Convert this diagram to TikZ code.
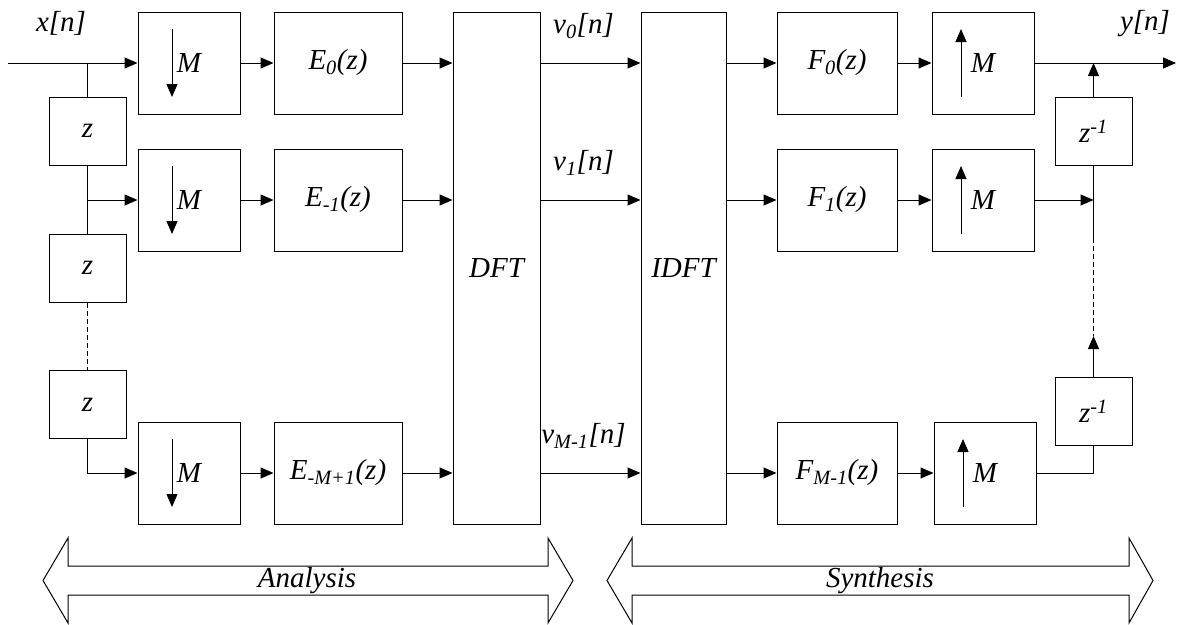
\documentclass[tikz,border=0pt]{standalone}
\usepackage{fontspec}
\setmainfont{Liberation Serif}
\usetikzlibrary{arrows.meta}

\tikzset{
	txt/.style={font=\fontsize{29}{34}\selectfont\itshape, inner sep=0pt},
	blk/.style={txt, draw},
	dnbox/.style={blk, minimum width=102pt, minimum height=102pt},
	ebox/.style={blk, minimum width=128pt, minimum height=102pt},
	fbox/.style={blk, minimum width=120pt, minimum height=102pt},
	zbox/.style={blk, minimum width=77pt, minimum height=68pt},
	tbox/.style={blk, minimum height=512pt},
}

\begin{document}
\begin{tikzpicture}[x=1pt, y=-1pt, line width=1pt, >={Triangle[length=13pt, width=11pt]}]
				\useasboundingbox (0,0) rectangle (1178,624);
				
				\node[dnbox] (dn0) at (189,63) {M};
				\node[dnbox] (dn1) at (189,200) {M};
				\node[dnbox] (dn2) at (189,473) {M};
				\node[ebox] (e0) at (338,63) {E\textsubscript{0}(z)};
				\node[ebox] (e1) at (338,200) {E\textsubscript{-1}(z)};
				\node[ebox] (e2) at (338,473) {E\textsubscript{-M+1}(z)};
				\node[tbox, minimum width=87pt] (dft) at (496.5,268) {DFT};
				\node[tbox, minimum width=85pt] (idft) at (683.5,268) {IDFT};
				\node[fbox] (f0) at (837,63) {F\textsubscript{0}(z)};
				\node[fbox] (f1) at (837,200) {F\textsubscript{1}(z)};
				\node[fbox] (f2) at (837,473) {F\textsubscript{M-1}(z)};
				\node[dnbox] (up0) at (983,63) {M};
				\node[dnbox] (up1) at (983,200) {M};
				\node[dnbox] (up2) at (985,473) {M};
				
				\node[zbox] (z1) at (87.5,131) {z};
				\node[zbox] (z2) at (87.5,268) {z};
				\node[zbox] (z3) at (87.5,404.5) {z};
				\node[zbox] (zi1) at (1093.5,131) {z\textsuperscript{-1}};
				\node[zbox] (zi2) at (1093.5,411) {z\textsuperscript{-1}};
				
				\coordinate (in) at (8,63);
				\coordinate (out) at (1176,63);
				\node[txt] (xn) at (61,23.5) {x[n]};
				\node[txt] (yn) at (1145,23.5) {y[n]};
				
				\draw[->] (in) -- (dn0.west);
				\draw (z1.north |- in) -- (z1.north);
				\draw (z1.south) -- (z2.north);
				\draw[->] (z1.south |- dn1.west) -- (dn1.west);
				\draw[dash pattern=on 5pt off 3pt] (z2.south) -- (z3.north);
				\draw[->] (z3.south) |- (dn2.west);
				
				\foreach \i/\v in {0/0, 1/1, 2/M-1} {
					\draw[->] ([shift={(-17,-34)}]dn\i.center) -- ([shift={(-17,34)}]dn\i.center);
					\draw[->] ([shift={(-22,34)}]up\i.center) -- ([shift={(-22,-34)}]up\i.center);
					\draw[->] (dn\i.east) -- (e\i.west);
					\draw[->] (e\i.east) -- (e\i.east -| dft.west);
					\draw[->] (dft.east |- e\i.east) -- (idft.west |- e\i.east)
						node[txt, midway, xshift=-7pt, yshift=37pt] {v\textsubscript{\v}[n]};
					\draw[->] (idft.east |- f\i.west) -- (f\i.west);
					\draw[->] (f\i.east) -- (up\i.west);
				}
				
				\draw[->] (up0.east) -- (out);
				\draw[->] (zi1.north) -- (zi1.north |- out);
				\draw[->] (up1.east) -- (up1.east -| zi1.south);
				\draw (zi1.south) -- ++(0,72) coordinate (d0);
				\coordinate (d1) at (1093.5,336);
				\draw[dash pattern=on 5pt off 3pt] (d0) -- (d1);
				\draw[->] (zi2.north) -- (d1);
				\draw (up2.east) -| (zi2.south);
				
				\draw (43,580.5) -- (68,538) -- (68,566) -- (548,566) -- (548,538) -- (573,580.5)
					-- (548,623) -- (548,595) -- (68,595) -- (68,623) -- cycle;
				\node[txt] (ana) at (307,580.5) {Analysis};
				\draw (607,580.5) -- (632,538) -- (632,566) -- (1129,566) -- (1129,538) -- (1153,580.5)
					-- (1129,623) -- (1129,595) -- (632,595) -- (632,623) -- cycle;
				\node[txt] (syn) at (880,580.5) {Synthesis};
			\end{tikzpicture}
\end{document}
